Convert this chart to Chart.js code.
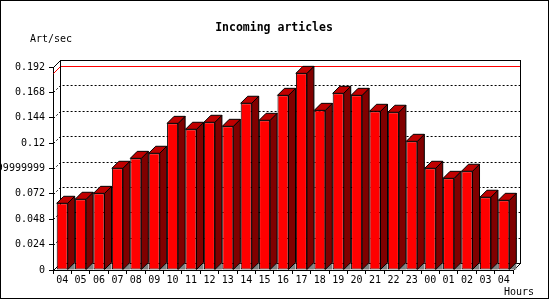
<!DOCTYPE html>
<html lang="en">
<head>
  <meta charset="UTF-8">
  <title>Incoming articles</title>
  <script src="https://cdn.jsdelivr.net/npm/chart.js"></script>
  <style>
    body { margin: 0; background: #fff; }
    canvas { display: block; }
  </style>
</head>
<body>

  <canvas id="articles" width="550" height="300"></canvas>

  <script>
    const hours = ['04', '05', '06', '07', '08', '09', '10', '11', '12', '13', '14', '15', '16',
                   '17', '18', '19', '20', '21', '22', '23', '00', '01', '02', '03', '04'];
    const artPerSec = [0.0631, 0.0669, 0.0725, 0.0962, 0.1056, 0.1104, 0.1387, 0.1331, 0.1397,
                       0.1359, 0.1577, 0.1416, 0.1652, 0.1860, 0.1510, 0.1671, 0.1652, 0.1501,
                       0.1492, 0.1217, 0.0962, 0.0867, 0.0934, 0.0688, 0.0659];
    const yTickValues = [0, 0.024, 0.048, 0.072, 0.096, 0.12, 0.144, 0.168, 0.192];
    const yTickLabels = ['0', '0.024', '0.048', '0.072', '0.09599999999999999', '0.12', '0.144', '0.168', '0.192'];

    const DX = 7, DY = 7; // depth of the 3d effect
    const monoFont = '"DejaVu Sans Mono", monospace';

    // back wall, grid, max line and the top/side faces of the bars
    const frame3d = {
      id: 'frame3d',
      beforeDatasetsDraw(chart) {
        const { ctx, chartArea: a, scales: { y } } = chart;
        const l = a.left, r = a.right, t = a.top, b = a.bottom;
        ctx.save();
        ctx.lineWidth = 1;

        ctx.strokeStyle = '#000';
        ctx.setLineDash([2, 2]);
        yTickValues.slice(1, -1).forEach(v => {
          const py = Math.round(y.getPixelForValue(v)) + 0.5;
          ctx.beginPath();
          ctx.moveTo(l + 0.5, py);
          ctx.lineTo(l + DX + 0.5, py - DY);
          ctx.lineTo(r + DX, py - DY);
          ctx.stroke();
        });
        ctx.setLineDash([]);

        const maxY = Math.round(y.getPixelForValue(Math.max(...artPerSec))) + 0.5;
        ctx.strokeStyle = '#ff0000';
        ctx.beginPath();
        ctx.moveTo(l + 0.5, maxY);
        ctx.lineTo(l + DX + 0.5, maxY - DY);
        ctx.lineTo(r + DX, maxY - DY);
        ctx.stroke();

        ctx.strokeStyle = '#000';
        ctx.strokeRect(l + DX + 0.5, t - DY + 0.5, r - l, b - t);
        ctx.beginPath();
        ctx.moveTo(l + 0.5, t + 0.5); ctx.lineTo(l + DX + 0.5, t - DY + 0.5);
        ctx.moveTo(l + 0.5, b + 0.5); ctx.lineTo(l + DX + 0.5, b - DY + 0.5);
        ctx.moveTo(r + 0.5, b + 0.5); ctx.lineTo(r + DX + 0.5, b - DY + 0.5);
        ctx.stroke();

        chart.getDatasetMeta(0).data.forEach(bar => {
          const { x, y: top, base, width } = bar.getProps(['x', 'y', 'base', 'width'], true);
          const x1 = x - width / 2, x2 = x + width / 2;

          ctx.fillStyle = '#808080';
          ctx.beginPath();
          ctx.moveTo(x2, base); ctx.lineTo(x2 + DX, base - DY); ctx.lineTo(x2 + DX, base);
          ctx.closePath();
          ctx.fill();

          ctx.fillStyle = '#800000';
          ctx.beginPath();
          ctx.moveTo(x2, top); ctx.lineTo(x2 + DX, top - DY);
          ctx.lineTo(x2 + DX, base - DY); ctx.lineTo(x2, base);
          ctx.closePath();
          ctx.fill(); ctx.stroke();

          ctx.fillStyle = '#c00000';
          ctx.beginPath();
          ctx.moveTo(x1, top); ctx.lineTo(x1 + DX, top - DY);
          ctx.lineTo(x2 + DX, top - DY); ctx.lineTo(x2, top);
          ctx.closePath();
          ctx.fill(); ctx.stroke();
        });
        ctx.restore();
      },
      afterDraw(chart) {
        const ctx = chart.ctx;
        ctx.save();
        ctx.fillStyle = '#000';
        ctx.textBaseline = 'alphabetic';
        ctx.font = 'bold 11.5px ' + monoFont;
        ctx.textAlign = 'center';
        ctx.fillText('Incoming articles', 274, 31);
        ctx.font = '10px ' + monoFont;
        ctx.textAlign = 'left';
        ctx.fillText('Art/sec', 30, 42);
        ctx.fillText('Hours', 504, 295);
        ctx.strokeStyle = '#000';
        ctx.strokeRect(0.5, 0.5, 548, 298);
        ctx.restore();
      }
    };

    new Chart(document.getElementById('articles'), {
      type: 'bar',
      data: {
        labels: hours,
        datasets: [{
          data: artPerSec,
          backgroundColor: '#ff0000',
          borderColor: '#000',
          borderWidth: 1,
          borderSkipped: false,
          barPercentage: 0.6,
          categoryPercentage: 1
        }]
      },
      options: {
        responsive: false,
        animation: false,
        layout: { padding: { top: 67, right: 37, left: 0, bottom: 0 } },
        plugins: {
          legend: { display: false },
          tooltip: { enabled: false }
        },
        scales: {
          x: {
            afterFit: s => { s.height = 30; },
            grid: { drawOnChartArea: false, color: '#000', tickLength: 4 },
            border: { color: '#000' },
            ticks: { color: '#000', padding: 0, maxRotation: 0, autoSkip: false,
                      font: { family: monoFont, size: 10 } }
          },
          y: {
            min: 0,
            max: 0.192,
            afterFit: s => { s.width = 53; },
            afterBuildTicks: s => { s.ticks = yTickValues.map(v => ({ value: v })); },
            grid: { drawOnChartArea: false, color: '#000', tickLength: 4 },
            border: { color: '#000' },
            ticks: { color: '#000', padding: 4,
                      font: { family: monoFont, size: 10 },
                      callback: (v, i) => yTickLabels[i] }
          }
        }
      },
      plugins: [frame3d]
    });
  </script>

</body>
</html>
